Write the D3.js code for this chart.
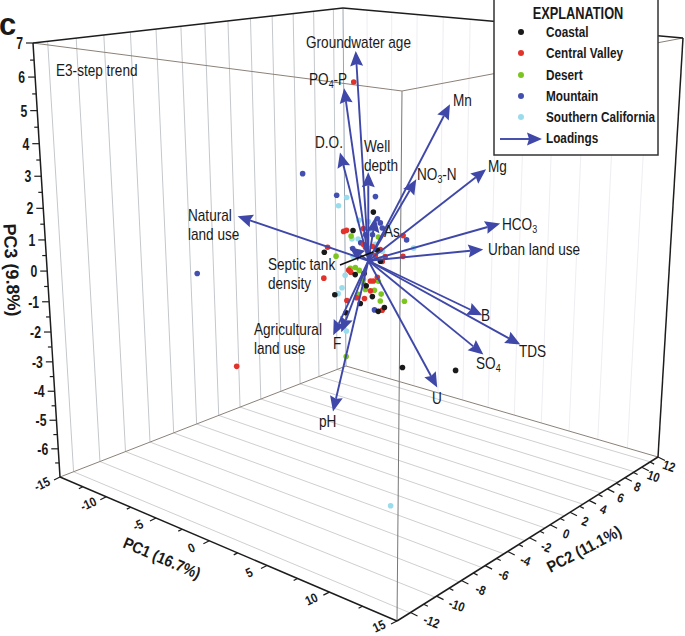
<!DOCTYPE html>
<html><head><meta charset="utf-8">
<script src="https://cdn.jsdelivr.net/npm/d3@7/dist/d3.min.js"></script>
<style>
html,body{margin:0;padding:0;background:#fff}
svg{display:block}
text{font-family:"Liberation Sans",Arial,sans-serif;fill:#1a1a1a}
</style></head><body><svg id="c" width="685" height="636"></svg>
<script>
// PC1, PC2, PC3 scores per region
const coastal=[[1.84,1,-3.52],[4.66,3,-3.62],[1.10,-.90,1.82],[.22,-1.78,1.26],[-1.02,-3.02,.60],[1.41,-.59,.23],[1.28,-.72,.59],[.31,-1.69,-.17],[.70,-1.30,-.15],[.79,-1.21,-.55],[-.58,-2.58,-.80],[1.06,-.94,-.92],[.53,-1.47,-1.13],[1.59,-.41,-1.30],[1.32,-.68,-1.42],[-.09,-2.09,-1.41]];
const centralValley=[[-7.18,-5,-3.54],[-2.54,1,5.55],[-1.72,-.72,.97],[-1.59,-.59,1.00],[-.84,.16,1.04],[-2.43,-1.43,.47],[-2.61,-1.61,-.55],[.93,1.93,.75],[.93,1.93,.06],[-.84,.16,.51],[-.75,.25,.41],[0,1,-.08],[.13,1.13,.08],[-1.5,-.5,-.32],[-1.41,-.41,-.39],[-.22,.78,-.60],[-.53,.47,-.72],[-.4,.6,-.72],[-.53,.47,-1.05],[-1.15,-.15,-1.26],[-.8,.2,-1.30],[-1.59,-.59,-1.34],[0,1,-1.73],[-.31,.69,.13],[-.44,.56,.43],[-.09,.91,.32]];
const desert=[[-1.25,-1,-3.17],[1.02,2,-1.46],[-.37,-1.37,.99],[-1.03,-2.03,.36],[-.41,-1.41,-.06],[-.19,-1.19,-.04],[-.02,-1.02,-.14],[.16,-.84,-.44],[.16,-.84,-.58],[.82,-.18,-.53],[.25,-.75,-.78],[.65,-.35,-.82],[-.06,-1.06,-.93],[.95,-.05,-.96],[.91,-.09,-1.19],[.82,-.18,.92]];
const mountain=[[-1.8,-4,3.12],[-9.57,-6,-.46],[-2.53,-.53,2.07],[-.81,1.19,1.98],[.6,2.6,.51],[-.72,1.28,1.25],[-.59,1.41,1.11],[-.5,1.5,.94],[-.85,1.15,.96],[-1.25,.75,.74],[-.94,1.06,.73],[-1.47,.53,.48],[-1.83,.17,.30],[-1.69,.31,.19],[-1.12,.88,.11],[-.85,1.15,-1.82],[-1.03,.97,-.16]];
const southernCalifornia=[[6.70,-5,-6.55],[-.25,-1.85,2.28],[-.6,-2.2,2.03],[.28,-1.32,1.54],[.68,-.92,1.49],[.77,-.83,1.22],[-.03,-1.63,.95],[2.67,1.07,.57],[.28,-1.32,.51],[.02,-1.58,.39],[1.3,-.3,.51],[-.33,-1.93,-.22],[-.47,-2.07,-.62],[-.64,-2.24,-.81],[-.29,-1.89,-2.07],[.99,-.61,.75],[.24,-1.36,.94]];
const loadingNames=["Groundwater age","PO4-P","D.O.","Well depth","Mn","NO3-N","Mg","HCO3","Urban land use","B","TDS","SO4","U","pH","Agricultural land use","F","Natural land use","As","Septic tank density"];
const loadingPC1=[-1.84,-1.84,-1.71,-1.26,2.92,1.97,4.33,5.62,5.09,6.82,10.75,8.66,6.70,-1.98,-1.37,-1.69,-7.92,-.12,-.91];
const loadingPC2=[.5,-.5,-1,1,4,2,6,6,5,3,2,1,-1,-1.5,-2,-1,-4,.5,-1];
const loadingPC3=[6.56,5.48,3.53,2.76,4.92,2.65,2.77,1.08,.28,-1.52,-1.95,-2.35,-3.34,-5.1,-2.31,-2.38,1.35,1.42,.54];
const loadingOrigin=[-.24,0,.04];
const pc1Ticks=d3.range(-15,15.01,2.5), pc1Labels=[-15,-10,-5,0,5,10,15];
const pc2Ticks=d3.range(-12,12.01,1), pc2Labels=[-12,-10,-8,-6,-4,-2,0,2,4,6,8,10,12];
const pc3Ticks=d3.range(-6.5,7.01,.5), pc3Labels=[7,6,5,4,3,2,1,0,-1,-2,-3,-4,-5,-6];
const floorGrid=[-12.04,-10.12,-8.19,-6.27,-4.35,-2.42,-.5,1.42,3.35,5.27,7.19,9.12,11.04];
const rightGrid=[-12.5,-10,-7.5,-5,-2.5,0,2.5,5,7.5,10,12.5];
const regions=["Coastal","Central Valley","Desert","Mountain","Southern California"];
const regionColors=["#1a1a1a","#e2332a","#7cc520","#4450b0","#9adcec"];
const loadingColor="#3f48a8";

const svg=d3.select("#c");
const su=d3.scaleLinear().domain([-15,15]).range([0,1]);
const sv=d3.scaleLinear().domain([-13,12]).range([0,1]);
const sz=d3.scaleLinear().domain([-7,7]).range([0,1]);
// box corners: [x,y,weight], index u,v,z
const cn={"000":[60,477,1.256],"100":[397,621,1],"010":[346,366,1.566],"110":[658,457,1.31],
          "001":[33,43,1.134],"101":[402,91,.9],"011":[343,8,1.41],"111":[683,38,1.18]};
function P(a,b,c){const u=su(a),v=sv(b),z=sz(c);let X=0,Y=0,W=0;
  for(const i of[0,1])for(const j of[0,1])for(const k of[0,1]){
    const f=(i?u:1-u)*(j?v:1-v)*(k?z:1-z),q=cn[""+i+j+k];
    X+=f*q[0]*q[2];Y+=f*q[1]*q[2];W+=f*q[2];}
  return[X/W,Y/W];}
const seg=(g,p,q,col,w)=>g.append("line").attr("x1",p[0]).attr("y1",p[1]).attr("x2",q[0]).attr("y2",q[1]).attr("stroke",col).attr("stroke-width",w);
// condensed text: installed fonts have no narrow cut, so squeeze horizontally
function txt(g,x,y,str,o={}){const t=g.append("text")
  .attr("transform",`translate(${x},${y}) rotate(${o.rot||0}) scale(${o.sx||.85},1)`)
  .attr("text-anchor",o.anchor||"start").attr("font-size",o.size||16);
  if(o.bold)t.attr("font-weight","bold");
  if(o.mid)t.attr("dy","0.35em");
  if(o.sub){const[a,b]=str.split(o.sub);t.append("tspan").text(a);t.append("tspan").attr("dy",3).attr("font-size",10.5).text(o.sub);t.append("tspan").attr("dy",-3).text(b);}
  else t.text(str);return t;}
const g0=svg.append("g");
const U0=-15,U1=15,V0=-13,V1=12,Z0=-7,Z1=7;
// wall / floor grids
rightGrid.forEach(u=>seg(g0,P(u,V1,Z0),P(u,V1,Z1),"#eeeef3",1));
floorGrid.forEach(v=>{seg(g0,P(U0,v,Z0),P(U0,v,Z1),"#c4c8cc",1);seg(g0,P(U0,v,Z0),P(U1,v,Z0),"#cfcfcf",1);});
// thin box edges
seg(g0,P(U0,V1,Z0),P(U0,V1,Z1),"#9aa6b4",1);
seg(g0,P(U1,V0,Z0),P(U1,V0,Z1),"#777",1);
[[P(U0,V0,Z1),P(U1,V0,Z1)],[P(U1,V0,Z1),P(U1,V1,Z1)],[P(U0,V0,Z0),P(U0,V1,Z0)],[P(U0,V1,Z0),P(U1,V1,Z0)]]
  .forEach(e=>seg(g0,e[0],e[1],"#8b8178",1));
// bold edges
[[P(U0,V0,Z0),P(U0,V0,Z1)],[P(U0,V0,Z0),P(U1,V0,Z0)],[P(U1,V0,Z0),P(U1,V1,Z0)],[P(U1,V1,Z0),P(U1,V1,Z1)],[P(U0,V0,Z1),P(U0,V1,Z1)],[P(U0,V1,Z1),P(U1,V1,Z1)]]
  .forEach(e=>seg(g0,e[0],e[1],"#1d1d1d",1.5));
// ticks
pc3Ticks.forEach(t=>{const p=P(U0,V0,t),m=t%1===0,l=m?7:4;seg(g0,[p[0]-l,p[1]],p,"#1d1d1d",1.2);});
pc1Ticks.forEach(t=>{const p=P(t,V0,Z0),m=t%5===0,l=m?1:.65;seg(g0,[p[0]-6*l,p[1]+3*l],p,"#1d1d1d",1.2);});
pc2Ticks.forEach(t=>{const p=P(U1,t,Z0),m=t%2===0,l=m?1:.6;seg(g0,p,[p[0]+7*l,p[1]+3.5*l],"#1d1d1d",1.2);});
// tick labels
const tl=svg.append("g");
pc3Labels.forEach(t=>{const p=P(U0,V0,t);txt(tl,p[0]-10,p[1]+6,t,{size:17,sx:.72,anchor:"end",bold:true});});
pc1Labels.forEach(t=>{const p=P(t,V0,Z0);txt(tl,p[0]-18,p[1]+(t===15?5:7),t,{size:13,rot:-25,sx:.85,anchor:"middle",mid:true,bold:true});});
pc2Labels.forEach(t=>{const p=P(U1,t,Z0);txt(tl,p[0]+16-t*.42,p[1]+9,t,{size:13,rot:20,sx:.85,anchor:"middle",mid:true,bold:true});});
const titles=[["PC3 (9.8%)",12,270,87,18,1],["PC1 (16.7%)",162,558,23,16,.9],["PC2 (11.1%)",584,549,-28,16,.9]];
titles.forEach(t=>txt(tl,t[1],t[2],t[0],{rot:t[3],size:t[4],sx:t[5],anchor:"middle",mid:true,bold:true}));
// points
const series=[coastal,centralValley,desert,mountain,southernCalifornia];
const pg=svg.append("g");
[4,3,2,1,0].forEach(i=>pg.selectAll(null).data(series[i]).join("circle")
  .attr("cx",d=>P(d[0],d[1],d[2])[0]).attr("cy",d=>P(d[0],d[1],d[2])[1]).attr("r",2.8).attr("fill",regionColors[i]));
// loadings
function arrow(g,p,q){const dx=q[0]-p[0],dy=q[1]-p[1],L=Math.hypot(dx,dy),ux=dx/L,uy=dy/L,nx=-uy,ny=ux;
  const bk=d=>[q[0]-ux*d,q[1]-uy*d];const n=bk(13),b=bk(15);
  g.append("line").attr("x1",p[0]).attr("y1",p[1]).attr("x2",n[0]).attr("y2",n[1]).attr("stroke",loadingColor).attr("stroke-width",1.9);
  g.append("path").attr("d",d3.line()([q,[b[0]+nx*6.5,b[1]+ny*6.5],n,[b[0]-nx*6.5,b[1]-ny*6.5]])+"Z").attr("fill",loadingColor);}
const ag=svg.append("g");const o=P(...loadingOrigin);
loadingNames.forEach((n,i)=>arrow(ag,o,P(loadingPC1[i],loadingPC2[i],loadingPC3[i])));
// labels
const lab=svg.append("g");
[["Groundwater age",306,48],["Mn",453,106],["Mg",488,172],["Urban land use",488,255],["B",481,321],["TDS",519,357],["U",432,404],["pH",319,427],["F",333,349],
 ["D.O.",315,148],["Well",364,152],["depth",364,171],["Agricultural",254,335],["land use",254,354],["Septic tank",268,270],["density",268,289],["Natural",188,221],["land use",188,240],["As",384,237],["E3-step trend",56,76]]
 .forEach(d=>txt(lab,d[1],d[2],d[0]));
txt(lab,309,85,"PO4-P",{sub:"4"});txt(lab,417,180,"NO3-N",{sub:"3"});txt(lab,502,230,"HCO3",{sub:"3"});txt(lab,476,369,"SO4",{sub:"4"});
svg.append("line").attr("x1",340).attr("y1",265).attr("x2",373).attr("y2",252).attr("stroke","#111").attr("stroke-width",1.6);
svg.append("text").attr("x",-1).attr("y",35).attr("font-size",31).attr("font-weight","bold").text("c");
// legend
const lg=svg.append("g");
lg.append("rect").attr("x",494).attr("y",-2).attr("width",164).attr("height",157).attr("fill","#fff").attr("stroke","#333").attr("stroke-width",1.5);
txt(lg,578,19,"EXPLANATION",{size:16,sx:.8,anchor:"middle",bold:true});
const ly=[32,53,75,96,117];
regions.forEach((r,i)=>{lg.append("circle").attr("cx",521).attr("cy",ly[i]).attr("r",3).attr("fill",regionColors[i]);
 txt(lg,546,ly[i]+5,r,{size:15,sx:.785,bold:true});});
txt(lg,546,143,"Loadings",{size:15,sx:.785,bold:true});
arrow(lg,[500,139],[542,139]);
</script></body></html>
